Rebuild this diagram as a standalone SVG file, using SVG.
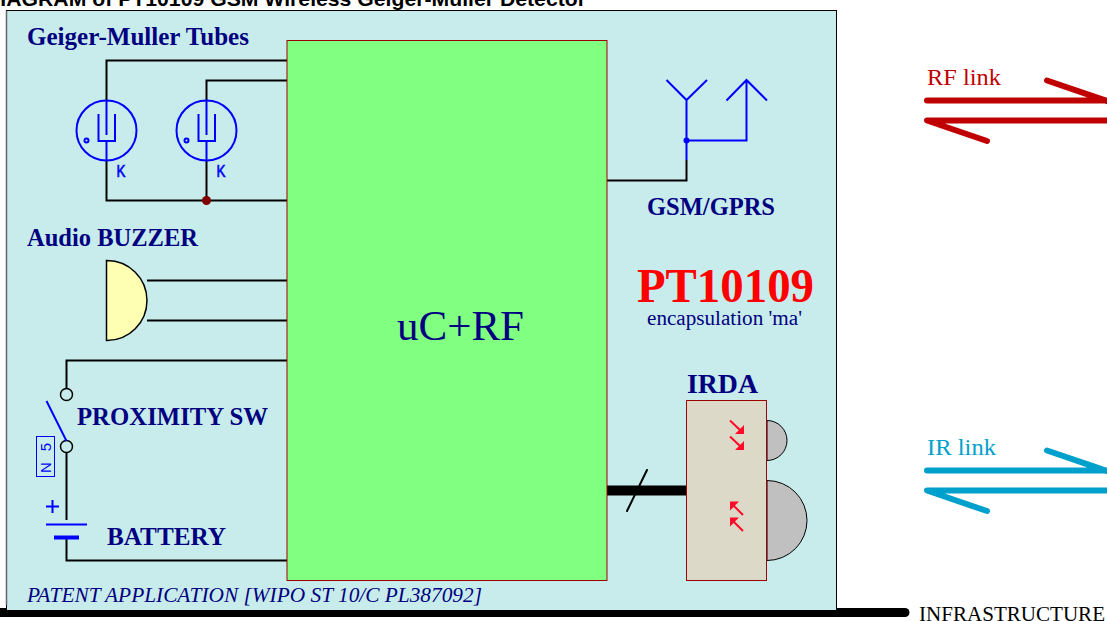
<svg xmlns="http://www.w3.org/2000/svg" width="1107" height="621" viewBox="0 0 1107 621">
<style>
text{font-family:"Liberation Serif","Times New Roman",serif}
.s{font-family:"Liberation Sans",Arial,sans-serif}
.k{font-size:16px;fill:#0000ff;stroke:#0000ff;stroke-width:.6}
.h{font-weight:bold;fill:#000080;font-size:25px}
.w{fill:none;stroke:#000;stroke-width:2}
.b{fill:none;stroke:#0000ff;stroke-width:2}
.rf{fill:none;stroke:#c00000;stroke-width:6;stroke-linecap:round;stroke-linejoin:round}
.ir{fill:none;stroke:#00a0cc;stroke-width:6;stroke-linecap:round;stroke-linejoin:round}
.ar{fill:none;stroke:#ff0a28;stroke-width:2}
.ah{fill:#ff0a28}
</style>
<rect width="1107" height="621" fill="#fff"/>
<text id="title" class="s" x="-15" y="6" font-weight="bold" font-size="21" textLength="601" lengthAdjust="spacingAndGlyphs" fill="#000">DIAGRAM of PT10109 GSM Wireless Geiger-Muller Detector</text>
<g id="infra-bar"><path d="M0 612.500H905" stroke="#000" stroke-width="9" stroke-linecap="round"/></g>
<g id="panel"><rect x="6.500" y="10.500" width="830" height="600" fill="#c8ecec" stroke="#000" stroke-width="1"/><path d="M6.500 11V605" stroke="#666" stroke-width="1.500"/></g>
<g id="connectors">
<path class="w" d="M287 60.500H106.500V100M287 80.500H206.500V100M106.500 160V200.500H287M206.500 160V200.500"/>
<path class="w" d="M147 280.500H287M147 320.500H287"/>
<path class="w" d="M287 360.500H66.500V388M66.500 452V520M66.500 538V560.500H287"/>
<path class="w" d="M607 180.500H686.500V160"/>
<path d="M607 490.500H687" stroke="#000" stroke-width="10" fill="none"/>
<path d="M627 511L647 470" stroke="#000" stroke-width="2" fill="none" stroke-linecap="round"/>
</g>
<g id="gm-tube-1">
<circle class="b" cx="106.500" cy="130.500" r="30"/>
<path class="b" d="M106.500 100V135M106.500 141V160M98.500 114V141H115V114"/>
<circle class="b" cx="86.500" cy="140.500" r="2"/>
<text class="s k" x="116.500" y="177" textLength="9" lengthAdjust="spacingAndGlyphs">K</text>
</g>
<g id="gm-tube-2">
<circle class="b" cx="206.500" cy="130.500" r="30"/>
<path class="b" d="M206.500 100V135M206.500 141V160M198.500 114V141H215V114"/>
<circle class="b" cx="186.500" cy="140.500" r="2"/>
<text class="s k" x="216.500" y="177" textLength="9" lengthAdjust="spacingAndGlyphs">K</text>
</g>
<circle id="junction" cx="206.500" cy="200.500" r="4.500" fill="#800000"/>
<g id="mcu"><rect x="287" y="40.500" width="320" height="540" fill="#80ff80" stroke="#a00000" stroke-width="1"/>
<text x="397" y="340" font-size="43" textLength="127" lengthAdjust="spacingAndGlyphs" fill="#000080">uC+RF</text></g>
<g id="buzzer"><path d="M106.500 260.500H107A40 40 0 0 1 107 340.500H106.500Z" fill="#ffffb4" stroke="#000" stroke-width="1.500"/></g>
<g id="switch">
<circle cx="66.500" cy="394.500" r="6" fill="none" stroke="#000" stroke-width="1.500"/>
<circle cx="66.500" cy="446.500" r="6" fill="none" stroke="#000" stroke-width="1.500"/>
<path class="b" d="M46.500 401L66.500 441"/>
<rect x="36.500" y="436.500" width="18" height="40" fill="none" stroke="#0000ff" stroke-width="1"/>
<text class="s" transform="translate(51 473) rotate(-90)" x="0" y="0" font-size="15" textLength="30" fill="#0000ff">N 5</text>
</g>
<g id="battery">
<path class="b" d="M46 524.500H87"/>
<path d="M54 537.500H79" stroke="#0000ff" stroke-width="4" fill="none"/>
<path class="b" d="M46 506.500H59M52.500 500V513"/>
</g>
<g id="antenna">
<path class="b" d="M686.500 160V100M666.500 80L686.500 100L707 80M686.500 140.500H746.500V80M726.500 100.500L746.500 80L767 100.500"/>
<circle cx="686.500" cy="140.500" r="3" fill="#0000ff"/>
</g>
<g id="irda">
<path d="M767 420.500A20 20 0 0 1 767 460.500Z" fill="#c0c0c0" stroke="#000" stroke-width="1"/>
<path d="M767 480.500A40 40 0 0 1 767 560.500Z" fill="#c0c0c0" stroke="#000" stroke-width="1"/>
<rect x="686.500" y="400.500" width="80" height="180" fill="#dcd9c8" stroke="#a00000" stroke-width="1"/>
<path class="ar" d="M730 420.500L741 431M730 436.500L741 447M733 505L743 515M733 521L743 531"/>
<path class="ah" d="M744 425V434H735ZM744 441V450H735ZM730 501.500H739L730 510.500ZM730 517.500H739L730 526.500Z"/>
</g>
<g id="rf-link">
<path class="rf" d="M927 100.500H1110M1047 80.500L1110 102"/>
<path class="rf" d="M1110 120.500H927L987 141"/>
</g>
<g id="ir-link">
<path class="ir" d="M927 470.500H1110M1047 450.500L1110 472"/>
<path class="ir" d="M1110 490.500H927L987 511"/>
</g>
<g id="labels">
<text class="h" x="27" y="45" textLength="222" lengthAdjust="spacingAndGlyphs">Geiger-Muller Tubes</text>
<text class="h" x="27" y="246" textLength="171" lengthAdjust="spacingAndGlyphs">Audio BUZZER</text>
<text class="h" x="77" y="425" textLength="191" lengthAdjust="spacingAndGlyphs">PROXIMITY SW</text>
<text class="h" x="107" y="545" textLength="119" lengthAdjust="spacingAndGlyphs">BATTERY</text>
<text class="h" x="647" y="215" textLength="128" lengthAdjust="spacingAndGlyphs">GSM/GPRS</text>
<text class="h" x="687" y="393" style="font-size:28px" textLength="71" lengthAdjust="spacingAndGlyphs">IRDA</text>
<text x="637" y="302" font-size="48" font-weight="bold" textLength="177" lengthAdjust="spacingAndGlyphs" fill="#ff0000">PT10109</text>
<text x="647" y="325" font-size="20.500" textLength="155" lengthAdjust="spacingAndGlyphs" fill="#000080">encapsulation 'ma'</text>
<text x="27" y="602" font-size="21" font-style="italic" textLength="455" lengthAdjust="spacingAndGlyphs" fill="#000080">PATENT APPLICATION [WIPO ST 10/C PL387092]</text>
<text x="927" y="85" font-size="24" textLength="74" lengthAdjust="spacingAndGlyphs" fill="#c00000">RF link</text>
<text x="927" y="455" font-size="24" textLength="69" lengthAdjust="spacingAndGlyphs" fill="#00a0cc">IR link</text>
<text x="919" y="621" font-size="21" textLength="186" lengthAdjust="spacingAndGlyphs" fill="#000">INFRASTRUCTURE</text>
</g>
</svg>
